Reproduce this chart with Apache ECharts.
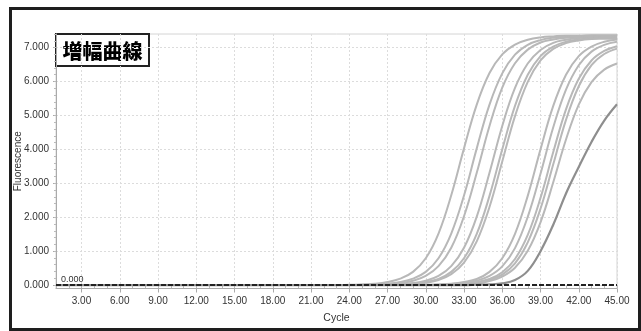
<!DOCTYPE html>
<html><head><meta charset="utf-8">
<script src="https://cdn.jsdelivr.net/npm/echarts@6/dist/echarts.min.js"></script>
<style>html,body{margin:0;padding:0;background:#fff}#c{width:641px;height:331px}</style>
</head><body><div id="c"></div>
<script>
const cycles = [1,2,3,4,5,6,7,8,9,10,11,12,13,14,15,16,17,18,19,20,21,22,23,24,25,26,27,28,29,30,31,32,33,34,35,36,37,38,39,40,41,42,43,44,45];
const xTickValues = [3,6,9,12,15,18,21,24,27,30,33,36,39,42,45];
const yTickValues = [0,1,2,3,4,5,6,7];
const xMinorTicks = cycles;
const yMinorTicks = [0,0.2,0.4,0.6,0.8,1,1.2,1.4,1.6,1.8,2,2.2,2.4,2.6,2.8,3,3.2,3.4,3.6,3.8,4,4.2,4.4,4.6,4.8,5,5.2,5.4,5.6,5.8,6,6.2,6.4,6.6,6.8,7,7.2,7.4];
const threshold = 0;
const titleText = '増幅曲線';

const curveA = [0,0,0,0,0,0,0,0,0,0, 0,0,0,0,0,0,0,0,0,0, 0,0,0,0.01,0.02,0.04,0.09,0.19,0.39,0.79,1.52,2.65,4.03,5.32,6.25,6.80,7.09,7.23,7.30,7.33,7.35,7.35,7.36,7.36,7.36];
const curveB = [0,0,0,0,0,0,0,0,0,0, 0,0,0,0,0,0,0,0,0,0, 0,0,0,0,0.01,0.02,0.04,0.09,0.19,0.39,0.79,1.52,2.64,4.03,5.32,6.24,6.79,7.08,7.22,7.29,7.32,7.34,7.35,7.35,7.35];
const curveC = [0,0,0,0,0,0,0,0,0,0, 0,0,0,0,0,0,0,0,0,0, 0,0,0,0,0,0.01,0.03,0.06,0.13,0.27,0.56,1.10,2.03,3.31,4.69,5.82,6.54,6.94,7.15,7.24,7.29,7.31,7.32,7.33,7.33];
const curveD = [0,0,0,0,0,0,0,0,0,0, 0,0,0,0,0,0,0,0,0,0, 0,0,0,0,0,0,0.01,0.03,0.06,0.13,0.27,0.56,1.10,2.02,3.31,4.69,5.81,6.53,6.93,7.14,7.23,7.28,7.30,7.31,7.32];
const curveE1 = [0,0,0,0,0,0,0,0,0,0, 0,0,0,0,0,0,0,0,0,0, 0,0,0,0,0,0,0.01,0.02,0.04,0.09,0.18,0.39,0.79,1.51,2.63,4.00,5.28,6.20,6.75,7.03,7.17,7.24,7.27,7.29,7.30];
const curveE2 = [0,0,0,0,0,0,0,0,0,0, 0,0,0,0,0,0,0,0,0,0, 0,0,0,0,0,0,0.01,0.02,0.03,0.07,0.15,0.32,0.66,1.29,2.30,3.64,4.98,5.99,6.62,6.96,7.13,7.21,7.25,7.26,7.27];
const curveF = [0,0,0,0,0,0,0,0,0,0, 0,0,0,0,0,0,0,0,0,0, 0,0,0,0,0,0,0,0,0,0.01,0.02,0.04,0.09,0.18,0.39,0.79,1.51,2.63,4.00,5.28,6.20,6.75,7.03,7.17,7.24];
const curveG = [0,0,0,0,0,0,0,0,0,0, 0,0,0,0,0,0,0,0,0,0, 0,0,0,0,0,0,0,0,0,0, 0.01,0.03,0.06,0.13,0.27,0.55,1.09,2.01,3.28,4.65,5.76,6.48,6.88,7.08,7.17];
const curveH = [0,0,0,0,0,0,0,0,0,0, 0,0,0,0,0,0,0,0,0,0, 0,0,0,0,0,0,0,0,0,0, 0.01,0.02,0.04,0.09,0.18,0.38,0.77,1.48,2.57,3.92,5.18,6.08,6.62,6.90,7.04];
const curveI = [0,0,0,0,0,0,0,0,0,0, 0,0,0,0,0,0,0,0,0,0, 0,0,0,0,0,0,0,0,0,0, 0,0.01,0.03,0.07,0.15,0.31,0.64,1.26,2.25,3.56,4.87,5.86,6.48,6.81,6.97];
const curveJ = [0,0,0,0,0,0,0,0,0,0, 0,0,0,0,0,0,0,0,0,0, 0,0,0,0,0,0,0,0,0,0, 0,0.01,0.03,0.05,0.12,0.25,0.51,1.01,1.85,3.03,4.29,5.32,5.98,6.35,6.53];
const curveK = [0,0,0,0,0,0,0,0,0,0, 0,0,0,0,0,0,0,0,0,0, 0,0,0,0,0,0,0,0,0,0, 0,0,0,0.01,0.02,0.05,0.15,0.42,1.00,1.78,2.70,3.48,4.22,4.85,5.33];

const lightCurves = [curveA, curveB, curveC, curveD, curveE1, curveE2, curveF, curveG, curveH, curveI, curveJ];
const darkCurves = [curveK];

const font = "'Liberation Sans',sans-serif";
const chart = echarts.init(document.getElementById('c'), null, {renderer:'canvas'});

const series = [];
lightCurves.forEach((arr, k) => {
  series.push({
    type:'line', xAxisIndex:0, yAxisIndex:0, smooth:0.4, showSymbol:false, silent:true,
    lineStyle:{color:'#b8b8b8', width:2}, z:3,
    data: cycles.map((c,i)=>[c, arr[i]])
  });
});
darkCurves.forEach(arr => {
  series.push({
    type:'line', xAxisIndex:0, yAxisIndex:0, smooth:0.4, showSymbol:false, silent:true,
    lineStyle:{color:'#8e8e8e', width:2.2}, z:4,
    data: cycles.map((c,i)=>[c, arr[i]])
  });
});
series.push({
  type:'line', xAxisIndex:0, yAxisIndex:0, data:[], silent:true,
  markLine:{
    silent:true, symbol:['none','none'], z:6,
    lineStyle:{color:'#222', type:[5,2], width:2},
    label:{show:true, position:'insideStartTop', formatter: threshold.toFixed(3), color:'#333', fontSize:9, fontFamily:font, distance:[5,1]},
    data:[{yAxis: threshold}]
  }
});

const option = {
  animation:false,
  backgroundColor:'#fff',
  grid:{left:56, right:24, top:34, bottom:42.5, show:true, borderColor:'#d4d4d4', borderWidth:1, containLabel:false, outerBoundsMode:'none'},
  xAxis:[{
    type:'value', min:1, max:45, position:'bottom',
    name:'Cycle', nameLocation:'middle', nameGap:24, nameMoveOverlap:false,
    nameTextStyle:{color:'#333', fontSize:10.5, fontFamily:font},
    axisLine:{show:true, onZero:false, lineStyle:{color:'#aaa', width:1}},
    axisTick:{show:true, length:4, customValues:xTickValues, lineStyle:{color:'#aaa'}},
    axisLabel:{show:true, customValues:xTickValues, formatter:v=>v.toFixed(2), color:'#333', fontSize:10, fontFamily:font, margin:8},
    splitLine:{show:true, lineStyle:{color:'#dcdcdc', type:[2,2], width:1}}
  },{
    type:'value', min:1, max:45, position:'bottom',
    axisLine:{show:false}, axisLabel:{show:false}, splitLine:{show:false},
    axisTick:{show:true, length:3, customValues:xMinorTicks, lineStyle:{color:'#bbb'}}
  }],
  yAxis:[{
    type:'value', min:-0.1, max:7.4, position:'left',
    name:'Fluorescence', nameLocation:'middle', nameGap:33, nameRotate:90, nameMoveOverlap:false,
    nameTextStyle:{color:'#333', fontSize:10, fontFamily:font},
    axisLine:{show:true, onZero:false, lineStyle:{color:'#aaa', width:1}},
    axisTick:{show:true, length:3, customValues:yTickValues, lineStyle:{color:'#aaa'}},
    axisLabel:{show:true, customValues:yTickValues, formatter:v=>v.toFixed(3), color:'#333', fontSize:10, fontFamily:font, margin:7},
    splitLine:{show:true, lineStyle:{color:'#dcdcdc', type:[2,2], width:1}}
  },{
    type:'value', min:-0.1, max:7.4, position:'left',
    axisLine:{show:false}, axisLabel:{show:false}, splitLine:{show:false},
    axisTick:{show:true, length:2, customValues:yMinorTicks, lineStyle:{color:'#bbb'}}
  }],
  series: series,
  graphic:[
    {type:'rect', left:8, top:6, shape:{width:629, height:321}, style:{fill:'none', stroke:'#1e1e1e', lineWidth:3}, z:100},
    {type:'group', left:55, top:33, z:100, children:[
      {type:'rect', shape:{x:0, y:0, width:93, height:32}, style:{fill:'#fff', stroke:'#222', lineWidth:2}},
      {type:'text', x:46.5, y:17, style:{text:titleText, fill:'#000', font:"900 20px 'Noto Sans CJK JP'", textAlign:'center', textVerticalAlign:'middle'}}
    ]}
  ]
};
chart.setOption(option);
</script></body></html>
